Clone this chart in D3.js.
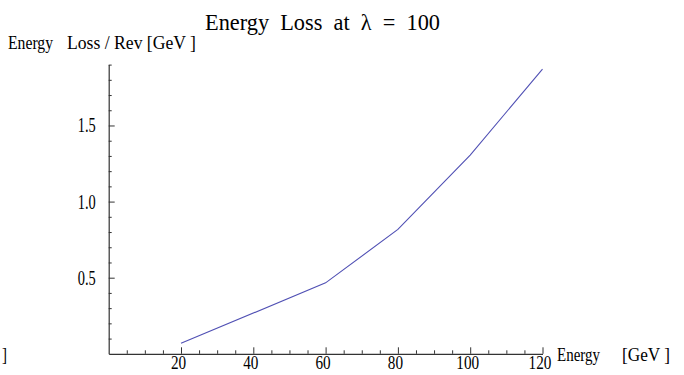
<!DOCTYPE html>
<html>
<head>
<meta charset="utf-8">
<script src="https://cdn.jsdelivr.net/npm/d3@7/dist/d3.min.js"></script>
<style>
  html, body { margin: 0; padding: 0; background: #fff; }
  svg { display: block; }
  text { font-family: "Liberation Serif", "Times New Roman", serif; fill: #000; white-space: pre; }
</style>
</head>
<body>
<script>
// Energy loss per revolution versus beam energy
const energy = [20, 60, 80, 100, 120];
const lossPerRev = [0.069, 0.466, 0.817, 1.306, 1.87];

const xMajorTicks = [20, 40, 60, 80, 100, 120];
const xTickLabels = ["20", "40", "60", "80", "100", "120"];
const yMajorTicks = [0.5, 1.0, 1.5];
const yTickLabels = ["0.5", "1.0", "1.5"];

const W = 684, H = 375;
const svg = d3.select("body").append("svg").attr("width", W).attr("height", H);

const x = d3.scaleLinear().domain([0, 120]).range([108.7, 542.5]);
const y = d3.scaleLinear().domain([0, 1.9]).range([353.8, 64.6]);

// condensed serif text fitted to a given width
function label(str, px, py, size, width, anchor) {
  return svg.append("text")
    .attr("x", px)
    .attr("y", py)
    .attr("font-size", size)
    .attr("text-anchor", anchor || "start")
    .attr("textLength", width)
    .attr("lengthAdjust", "spacingAndGlyphs")
    .text(str);
}

const axisColor = "#333";

// x axis: minor ticks every 5, major every 20
const xMinor = d3.range(5, 121, 5).filter(v => v % 20 !== 0);
const xAxisG = svg.append("g").attr("transform", `translate(0,${y(0)})`);
xAxisG.call(d3.axisBottom(x).tickValues(xMinor).tickSize(-3.5).tickFormat(""));
xAxisG.call(g => g.select(".domain").remove());
const xMajG = svg.append("g").attr("transform", `translate(0,${y(0)})`);
xMajG.call(d3.axisBottom(x).tickValues(xMajorTicks).tickSize(-6.5).tickSizeOuter(0).tickFormat(""));
xMajG.select(".domain").attr("stroke", axisColor).attr("stroke-width", 1.2);

// y axis: minor ticks every 0.1, major every 0.5
const yMinor = d3.range(1, 20).map(v => v / 10).filter(v => Math.abs(v * 2 - Math.round(v * 2)) > 1e-6);
const yAxisG = svg.append("g").attr("transform", `translate(${x(0)},0)`);
yAxisG.call(d3.axisLeft(y).tickValues(yMinor).tickSize(-3).tickFormat(""));
yAxisG.call(g => g.select(".domain").remove());
const yMajG = svg.append("g").attr("transform", `translate(${x(0)},0)`);
yMajG.call(d3.axisLeft(y).tickValues(yMajorTicks).tickSize(-6).tickSizeOuter(0).tickFormat(""));
yMajG.select(".domain").attr("stroke", axisColor).attr("stroke-width", 1.2);
svg.selectAll(".tick line").attr("stroke", axisColor).attr("stroke-width", 1);

// tick labels
xMajorTicks.forEach((v, i) => {
  label(xTickLabels[i], x(v) - 2.5, 369, 19, xTickLabels[i].length * 7.6, "middle");
});
yMajorTicks.forEach((v, i) => {
  label(yTickLabels[i], x(0) - 13, y(v) + 7, 21, 18, "end");
});

// data line
const line = d3.line().x((d, i) => x(energy[i])).y(d => y(d));
svg.append("path")
  .datum(lossPerRev)
  .attr("d", line)
  .attr("fill", "none")
  .attr("stroke", "#5050b4")
  .attr("stroke-width", 1.1);

// titles and axis labels
label("Energy  Loss  at  \u03bb  =  100", 205, 30, 24, 235, "start");
label("Energy", 8, 49, 19, 45, "start");
label("Loss / Rev [GeV ]", 67, 49, 19, 129, "start");
label("Energy", 557, 361, 19, 43, "start");
label("[GeV ]", 622, 361, 19, 48, "start");
label("]", 2, 361, 19, 5, "start");
</script>
</body>
</html>
